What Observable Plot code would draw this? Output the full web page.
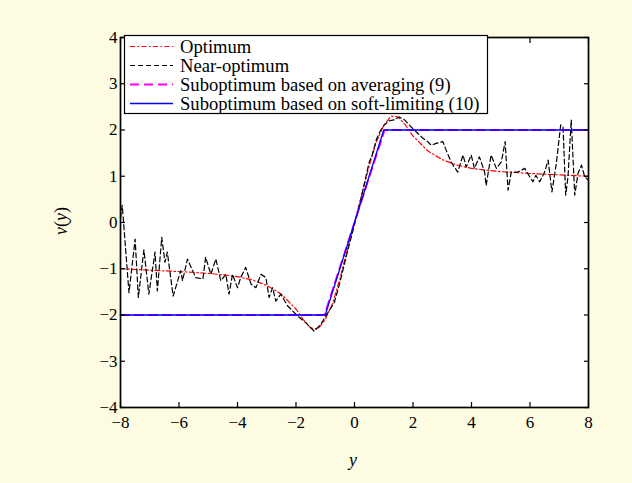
<!DOCTYPE html>
<html><head><meta charset="utf-8">
<script src="https://cdn.jsdelivr.net/npm/d3@7"></script>
<script src="https://cdn.jsdelivr.net/npm/@observablehq/plot@0.6"></script>
<style>html,body{margin:0;padding:0;background:#fdfce2;}#chart{width:632px;height:483px;}</style>
</head><body><div id="chart"></div>
<script>
const seriesNames = ["Optimum", "Near-optimum", "Suboptimum based on averaging (9)", "Suboptimum based on soft-limiting (10)"];
const xTicks = [-8, -6, -4, -2, 0, 2, 4, 6, 8];
const yTicks = [-4, -3, -2, -1, 0, 1, 2, 3, 4];

const optX = [-8, -7, -6, -5, -4.5, -4, -3.5, -3, -2.5, -2, -1.75, -1.5, -1.25, -1, -0.75, -0.5, -0.25, 0, 0.25, 0.5, 0.75, 1, 1.25, 1.5, 1.75, 2, 2.5, 3, 3.5, 4, 4.5, 5, 6, 7, 8];
const optV = [-1.0, -1.03, -1.06, -1.1, -1.13, -1.17, -1.24, -1.36, -1.55, -1.87, -2.1, -2.28, -2.3, -2.1, -1.75, -1.22, -0.6, 0, 0.6, 1.22, 1.75, 2.1, 2.3, 2.28, 2.1, 1.87, 1.55, 1.36, 1.24, 1.17, 1.13, 1.1, 1.06, 1.03, 1.0];

const nearX = [-8, -7.94, -7.71, -7.5, -7.39, -7.2, -7.03, -6.82, -6.74, -6.59, -6.48, -6.4, -6.2, -5.94, -5.88, -5.71, -5.43, -5.18, -5.09, -4.91, -4.74, -4.57, -4.4, -4.29, -4.17, -4.0, -3.89, -3.72, -3.54, -3.37, -3.2, -3.03, -2.92, -2.8, -2.69, -2.52, -2.29, -1.95, -1.66, -1.38, -1.15, -0.98, -0.69, -0.5, -0.25, 0, 0.25, 0.5, 0.6, 0.75, 0.9, 1.02, 1.19, 1.36, 1.53, 1.71, 1.93, 2.16, 2.34, 2.5, 2.62, 2.79, 3.02, 3.13, 3.3, 3.53, 3.71, 3.82, 3.99, 4.1, 4.27, 4.45, 4.5, 4.67, 4.85, 5.02, 5.15, 5.25, 5.36, 5.59, 5.82, 5.99, 6.1, 6.2, 6.33, 6.5, 6.62, 6.75, 6.9, 7.05, 7.13, 7.22, 7.3, 7.41, 7.53, 7.64, 7.76, 7.87, 8.0];
const nearV = [0.1, 0.37, -1.52, -0.36, -1.62, -0.59, -1.55, -0.64, -1.48, -0.32, -0.86, -0.64, -1.59, -1.04, -1.26, -0.79, -1.19, -1.22, -0.75, -1.12, -0.79, -1.26, -1.12, -1.55, -1.12, -1.41, -1.19, -0.97, -1.33, -1.41, -1.12, -1.19, -1.62, -1.41, -1.7, -1.55, -1.8, -2.02, -2.17, -2.35, -2.2, -2.02, -1.73, -1.3, -0.65, -0.05, 0.6, 1.3, 1.45, 1.8, 2.0, 2.11, 2.2, 2.22, 2.28, 2.22, 2.07, 1.93, 1.82, 1.75, 1.67, 1.71, 1.75, 1.57, 1.31, 1.09, 1.46, 1.2, 1.46, 1.17, 1.42, 1.09, 0.8, 1.46, 1.17, 1.31, 1.75, 0.7, 1.09, 1.09, 1.17, 0.99, 0.88, 1.02, 0.88, 1.09, 1.35, 0.66, 1.28, 2.11, 2.07, 0.59, 0.99, 2.22, 0.59, 1.06, 1.24, 0.99, 0.91];

const avgX = [-8, -1.03, -0.5, 0, 0.5, 1.03, 8];
const avgV = [-2, -2, -0.97, 0, 0.97, 2, 2];

const softX = [-8, -1, 1, 8];
const softV = [-2, -2, 2, 2];

const zip = (xs, vs) => xs.map((x, i) => ({x, v: vs[i]}));
const opt = zip(optX, optV), near = zip(nearX, nearV), avg = zip(avgX, avgV), soft = zip(softX, softV);

const colors = ["#ff0000", "#000000", "#ff00ff", "#0000ff"];
const dashes = ["5,2.5,1.5,2.5", "5,3", "9,5", "none"];
const widths = [1.2, 1.2, 1.8, 1.3];
const sets = [opt, near, avg, soft];
const serif = "'Liberation Serif', 'Times New Roman', Times, serif";

const plot = Plot.plot({
  width: 632, height: 483,
  marginLeft: 120, marginRight: 44, marginTop: 37, marginBottom: 76,
  style: {background: "#fdfce2", fontFamily: serif, fontSize: "17px", color: "black"},
  x: {domain: [-8, 8]},
  y: {domain: [-4, 4]},
  marks: [
    Plot.frame({fill: "white", stroke: null}),
    ...sets.map((s, i) => Plot.line(s, {x: "x", y: "v", stroke: colors[i], strokeWidth: widths[i], strokeDasharray: dashes[i]})),
    Plot.axisX({anchor: "bottom", ticks: xTicks, tickSize: -5, tickPadding: 13, label: null, strokeWidth: 1.2, fontFamily: serif, fontSize: 17}),
    Plot.axisX({anchor: "top", ticks: xTicks, tickSize: -5, tickFormat: () => "", label: null, strokeWidth: 1.2}),
    Plot.axisY({anchor: "left", ticks: yTicks, tickSize: -5, tickPadding: 8, label: null, strokeWidth: 1.2, fontFamily: serif, fontSize: 17}),
    Plot.axisY({anchor: "right", ticks: yTicks, tickSize: -5, tickFormat: () => "", label: null, strokeWidth: 1.2}),
    Plot.frame({stroke: "black", strokeWidth: 1.7})
  ]
});
document.getElementById("chart").appendChild(plot);

const svg = d3.select(plot);
// axis titles
svg.append("text").attr("x", 353).attr("y", 466).attr("text-anchor", "middle")
  .style("font-family", serif).style("font-style", "italic").style("font-size", "18px").text("y");
const yl = svg.append("text").attr("transform", "translate(67,221) rotate(-90)").attr("text-anchor", "middle")
  .style("font-family", serif).style("font-size", "18px");
yl.append("tspan").style("font-style", "italic").text("v");
yl.append("tspan").text("(");
yl.append("tspan").style("font-style", "italic").text("y");
yl.append("tspan").text(")");

// legend
const lg = svg.append("g");
lg.append("rect").attr("x", 124.5).attr("y", 35.5).attr("width", 363).attr("height", 78)
  .attr("fill", "white").attr("stroke", "black").attr("stroke-width", 1.2);
seriesNames.forEach((name, i) => {
  const cy = 46.5 + i * 19;
  lg.append("line").attr("x1", 130).attr("x2", 173).attr("y1", cy).attr("y2", cy)
    .attr("stroke", colors[i]).attr("stroke-width", widths[i]).attr("stroke-dasharray", dashes[i]);
  lg.append("text").attr("x", 180).attr("y", cy).attr("dy", "0.35em").attr("text-anchor", "start")
    .style("font-family", serif).style("font-size", "18.6px").text(name);
});
</script>
</body></html>
